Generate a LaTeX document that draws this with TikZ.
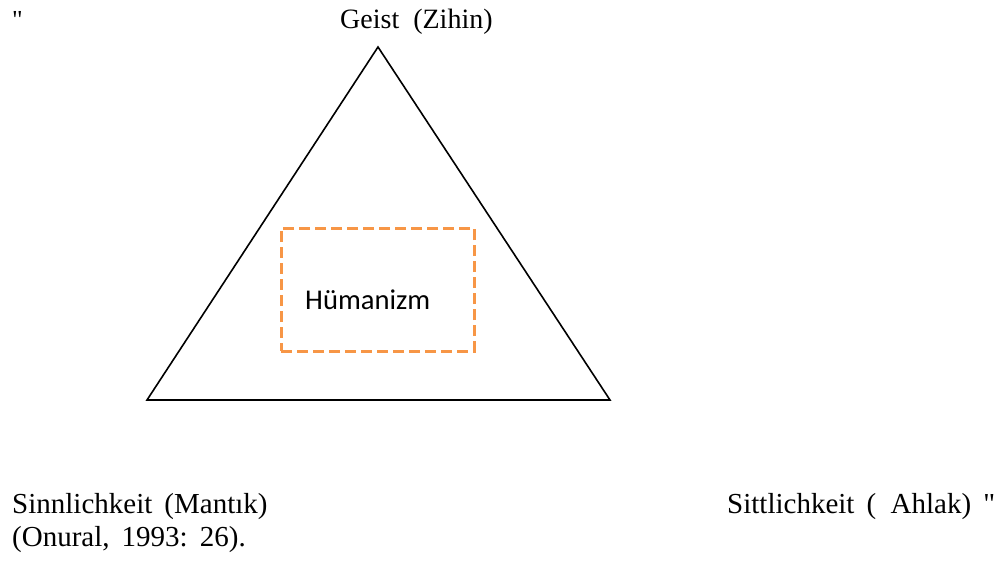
\documentclass[tikz,border=0pt]{standalone}
\usepackage{fontspec}
\setmainfont{Liberation Serif}
\newfontfamily\calfont{Carlito}
\definecolor{boxorange}{HTML}{F79646}
\begin{document}
\begin{tikzpicture}[x=1pt,y=-1pt,
  lbl/.style={inner sep=0pt,anchor=base west,font=\fontsize{29}{33}\selectfont},
  tri/.style={draw=black,line width=1.6pt,line join=miter},
  hbox/.style={draw=boxorange,line width=3pt,dash pattern=on 11pt off 5pt,inner sep=0pt,
    minimum width=193pt,minimum height=123pt}]
\useasboundingbox (0,0) rectangle (1003,570);
\coordinate (top) at (378,47);
\coordinate (bl) at (147,400);
\coordinate (br) at (610,400);
\draw[tri] (top) -- (bl) -- (br) -- cycle;
\node[hbox] (hum) at (377.5,289.5) {};
\node[inner sep=0pt,anchor=base west,font=\calfont\fontsize{28.6}{33}\selectfont] (humt) at (305,309) {Hümanizm};
\node[lbl,font=\fontsize{26}{30}\selectfont] (q1) at (12,28) {\textquotedbl};
\node[lbl,font=\fontsize{28}{33}\selectfont] (geist) at (340,28) {Geist\ \ (Zihin)};
\node[lbl] (sinn) at (12,513) {Sinnlichkeit\ \,(Mantık)};
\node[lbl] (onu) at (12,546) {(Onural,\ \,1993:\ \,26).};
\node[lbl] (sitt) at (727,513) {Sittlichkeit\ \,(\ \ Ahlak)\ \,\textquotedbl};
\end{tikzpicture}
\end{document}
